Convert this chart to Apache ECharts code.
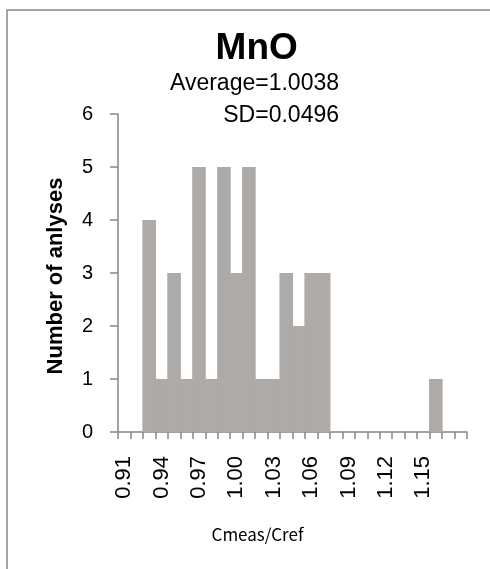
<!DOCTYPE html>
<html><head><meta charset="utf-8">
<script src="https://cdn.jsdelivr.net/npm/echarts@6/dist/echarts.min.js"></script>
<style>html,body{margin:0;padding:0;background:#fff}#c{width:490px;height:569px}</style>
</head><body><div id="c"></div>
<script>
const categories = ['0.91','0.92','0.93','0.94','0.95','0.96','0.97','0.98','0.99','1.00','1.01','1.02','1.03','1.04','1.05','1.06','1.07','1.08','1.09','1.10','1.11','1.12','1.13','1.14','1.15','1.16','1.17',''];
const counts = [0,0,4,1,3,1,5,1,5,3,5,1,1,3,2,3,3,0,0,0,0,0,0,0,0,1,0,0];
const yTicks = {min:0, max:6, interval:1};
const titleText = 'MnO';
const statLines = ['Average=1.0038','SD=0.0496'];
const yName = 'Number of anlyses';
const xName = 'Cmeas/Cref';

const chart = echarts.init(document.getElementById('c'), null, {renderer:'canvas'});
const axisGray = '#868686';
chart.setOption({
  animation:false,
  backgroundColor:'#fff',
  grid:{left:118, top:114, width:349, height:318, containLabel:false},
  xAxis:{
    type:'category', data:categories, boundaryGap:true,
    axisLine:{show:true, lineStyle:{color:axisGray, width:1.5}},
    axisTick:{show:true, alignWithLabel:false, interval:0, length:7, lineStyle:{color:axisGray, width:1.5}},
    axisLabel:{show:true, interval:2, rotate:90, margin:24, fontSize:22, color:'#000', fontFamily:'Liberation Sans, Arial, sans-serif'},
    splitLine:{show:false}
  },
  yAxis:{
    type:'value', min:yTicks.min, max:yTicks.max, interval:yTicks.interval,
    axisLine:{show:true, lineStyle:{color:axisGray, width:1.5}},
    axisTick:{show:true, length:8, lineStyle:{color:axisGray, width:1.5}},
    axisLabel:{margin:25, fontSize:20, color:'#000', fontFamily:'Liberation Sans, Arial, sans-serif'},
    splitLine:{show:false}
  },
  series:[{
    type:'bar', data:counts, barWidth:13.6, barGap:'-100%',
    itemStyle:{color:'#ADAAA8', borderWidth:0}
  }],
  graphic:[
    {type:'rect', shape:{x:7, y:10, width:700, height:700}, style:{fill:null, stroke:'#888', lineWidth:1.5}, z:-1, silent:true},
    {type:'text', x:256.7, y:49.2, style:{text:titleText, fill:'#000', font:'bold 37px "Liberation Sans", Arial, sans-serif', textAlign:'center', textVerticalAlign:'middle'}},
    {type:'text', x:339, y:83.7, style:{text:statLines[0], fill:'#000', font:'23px "Liberation Sans", Arial, sans-serif', textAlign:'right', textVerticalAlign:'middle'}},
    {type:'text', x:339, y:115.3, style:{text:statLines[1], fill:'#000', font:'23px "Liberation Sans", Arial, sans-serif', textAlign:'right', textVerticalAlign:'middle'}},
    {type:'text', x:56, y:276, rotation:Math.PI/2, style:{text:yName, fill:'#000', font:'bold 22px "Liberation Sans", Arial, sans-serif', textAlign:'center', textVerticalAlign:'middle'}},
    {type:'text', x:257.5, y:535, style:{text:xName, fill:'#000', font:'17px "Liberation Sans Narrow", "Noto Sans CJK JP", sans-serif', textAlign:'center', textVerticalAlign:'middle'}}
  ]
});
</script></body></html>
